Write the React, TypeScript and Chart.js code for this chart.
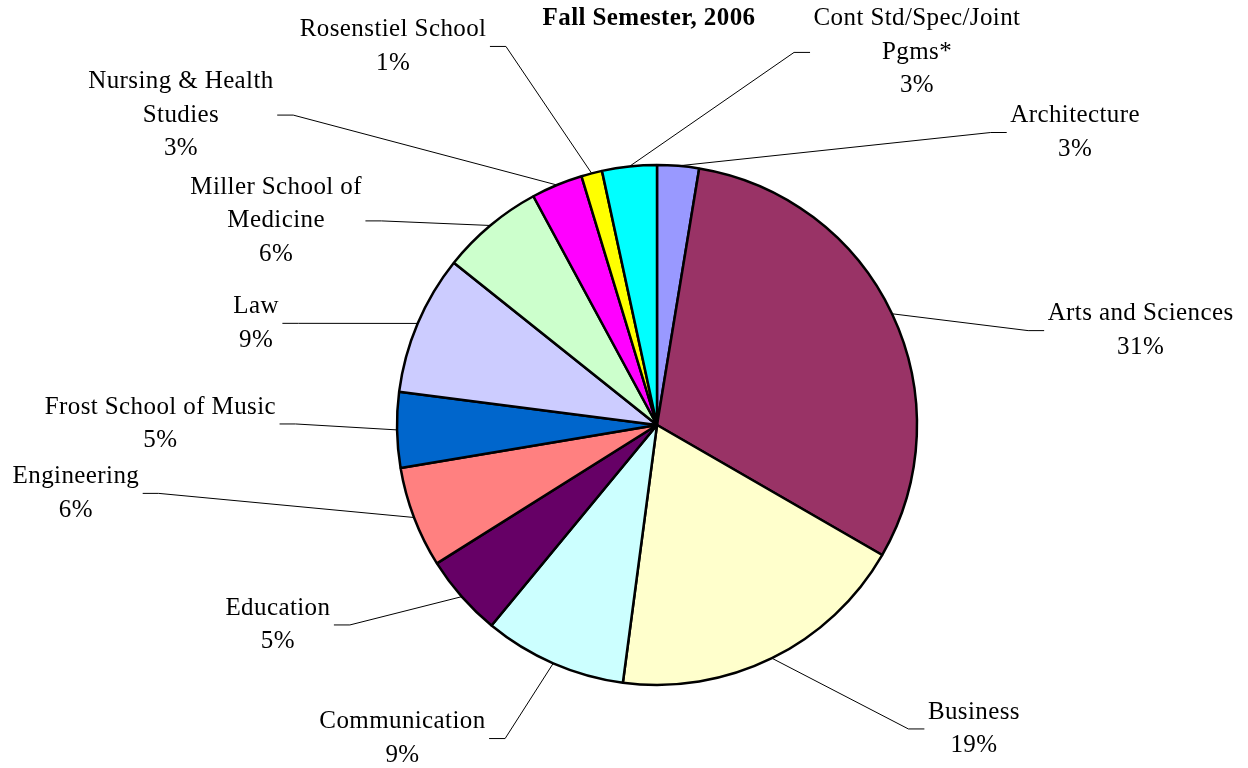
import React, { useEffect, useRef } from "react";
import { Chart, registerables } from "chart.js";

Chart.register(...registerables);

const titleText = "Fall Semester, 2006";

const categories: string[][] = [
  ["Architecture"],
  ["Arts and Sciences"],
  ["Business"],
  ["Communication"],
  ["Education"],
  ["Engineering"],
  ["Frost School of Music"],
  ["Law"],
  ["Miller School of", "Medicine"],
  ["Nursing & Health", "Studies"],
  ["Rosenstiel School"],
  ["Cont Std/Spec/Joint", "Pgms*"],
];

const shares = [2.6, 30.8, 18.8, 8.9, 5.1, 6.3, 4.7, 8.7, 6.4, 3.2, 1.3, 3.4];

const sliceColors = [
  "#9999FF",
  "#993366",
  "#FFFFCC",
  "#CCFFFF",
  "#660066",
  "#FF8080",
  "#0066CC",
  "#CCCCFF",
  "#CCFFCC",
  "#FF00FF",
  "#FFFF00",
  "#00FFFF",
];

// label block centres, relative to the pie centre, in units of the pie radius
const labelOffsets: [number, number][] = [
  [1.608, -1.125],
  [1.86, -0.363],
  [1.219, 1.169],
  [-0.979, 1.206],
  [-1.458, 0.769],
  [-2.235, 0.263],
  [-1.91, -0.004],
  [-1.542, -0.391],
  [-1.465, -0.785],
  [-1.831, -1.192],
  [-1.015, -1.456],
  [1.0, -1.433],
];

const FONT_FAMILY = '"Liberation Serif", "Times New Roman", serif';

const outerLabels = {
  id: "outerLabels",
  afterDraw(chart: any) {
    const ctx: CanvasRenderingContext2D = chart.ctx;
    const meta = chart.getDatasetMeta(0);
    const total = shares.reduce((a, b) => a + b, 0);
    const lineH = 33.5;
    ctx.save();
    ctx.font = `25px ${FONT_FAMILY}`;
    (ctx as any).letterSpacing = "0.4px";
    ctx.fillStyle = "#000";
    ctx.strokeStyle = "#000";
    ctx.lineWidth = 1;
    ctx.textAlign = "center";
    ctx.textBaseline = "middle";
    let cx = 0;
    meta.data.forEach((arc: any, i: number) => {
      const { x, y, startAngle, endAngle, outerRadius } = arc.getProps(
        ["x", "y", "startAngle", "endAngle", "outerRadius"],
        true
      );
      cx = x;
      const mid = (startAngle + endAngle) / 2;
      const ax = x + Math.cos(mid) * outerRadius;
      const ay = y + Math.sin(mid) * outerRadius;
      const [ox, oy] = labelOffsets[i];
      const lx = x + ox * outerRadius;
      const ly = y + oy * outerRadius;
      const pct = Math.round((shares[i] / total) * 100) + "%";
      const lines = [...categories[i], pct];
      const w = Math.max(...lines.map((l) => ctx.measureText(l).width));
      const right = lx > x;
      const edge = right ? lx - w / 2 - 3.5 : lx + w / 2 + 3.5;
      const elbow = right ? edge - 16 : edge + 16;
      ctx.beginPath();
      ctx.moveTo(ax, ay);
      ctx.lineTo(elbow, ly);
      ctx.lineTo(edge, ly);
      ctx.stroke();
      lines.forEach((t, k) => {
        ctx.fillText(t, lx, ly + (k - (lines.length - 1) / 2) * lineH);
      });
    });
    ctx.font = `bold 25px ${FONT_FAMILY}`;
    ctx.fillText(titleText, cx - 8, 19);
    ctx.restore();
  },
};

export default function App() {
  const canvasRef = useRef<HTMLCanvasElement | null>(null);

  useEffect(() => {
    if (!canvasRef.current) return;
    const chart = new Chart(canvasRef.current, {
      type: "pie",
      data: {
        labels: categories,
        datasets: [
          {
            data: shares,
            backgroundColor: sliceColors,
            borderColor: "#000",
            borderWidth: 2.5,
          },
        ],
      },
      options: {
        responsive: false,
        animation: false,
        radius: 260,
        layout: { padding: { left: 166, right: 100, top: 100, bottom: 18 } },
        plugins: {
          legend: { display: false },
          tooltip: { enabled: false },
          title: { display: false },
        },
      } as any,
      plugins: [outerLabels],
    });
    return () => chart.destroy();
  }, []);

  return (
    <div
      style={{
        position: "fixed",
        left: 0,
        top: 0,
        width: 1248,
        height: 768,
        background: "#fff",
      }}
    >
      <canvas ref={canvasRef} width={1248} height={768} style={{ display: "block" }} />
    </div>
  );
}
